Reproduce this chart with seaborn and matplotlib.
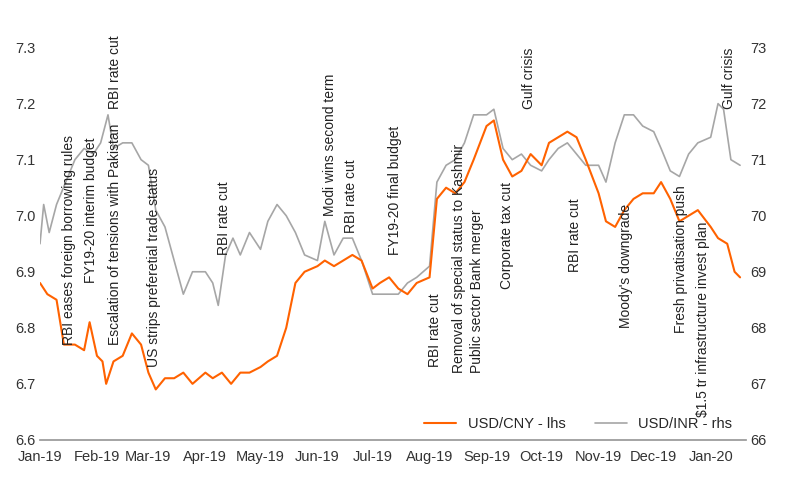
import matplotlib
matplotlib.use("Agg")
import matplotlib.pyplot as plt
import matplotlib.dates as mdates
import seaborn as sns
import pandas as pd

sns.set_theme(style="white")
plt.rcParams['font.family'] = ['Liberation Sans', 'DejaVu Sans']

cny_dates = ["2019-01-01","2019-01-05","2019-01-10","2019-01-14","2019-01-20","2019-01-25","2019-01-28","2019-02-01","2019-02-04","2019-02-06","2019-02-10","2019-02-15","2019-02-20","2019-02-25",
"2019-03-01","2019-03-05","2019-03-10","2019-03-15","2019-03-20","2019-03-25","2019-04-01","2019-04-05","2019-04-10","2019-04-15","2019-04-20","2019-04-25",
"2019-05-01","2019-05-05","2019-05-10","2019-05-15","2019-05-20","2019-05-25","2019-06-01","2019-06-05","2019-06-10","2019-06-15","2019-06-20","2019-06-25",
"2019-07-01","2019-07-05","2019-07-10","2019-07-15","2019-07-20","2019-07-25","2019-08-01","2019-08-05","2019-08-10","2019-08-15","2019-08-20","2019-08-25",
"2019-09-01","2019-09-05","2019-09-10","2019-09-15","2019-09-20","2019-09-25","2019-10-01","2019-10-05","2019-10-10","2019-10-15","2019-10-20","2019-10-25",
"2019-11-01","2019-11-05","2019-11-10","2019-11-15","2019-11-20","2019-11-25","2019-12-01","2019-12-05","2019-12-10","2019-12-15","2019-12-20","2019-12-25",
"2020-01-01","2020-01-05","2020-01-10","2020-01-14","2020-01-17"]
cny_values = [6.88,6.86,6.85,6.77,6.77,6.76,6.81,6.75,6.74,6.70,6.74,6.75,6.79,6.77,
6.72,6.69,6.71,6.71,6.72,6.70,6.72,6.71,6.72,6.70,6.72,6.72,
6.73,6.74,6.75,6.80,6.88,6.90,6.91,6.92,6.91,6.92,6.93,6.92,
6.87,6.88,6.89,6.87,6.86,6.88,6.89,7.03,7.05,7.04,7.06,7.10,
7.16,7.17,7.10,7.07,7.08,7.11,7.09,7.13,7.14,7.15,7.14,7.10,
7.04,6.99,6.98,7.01,7.03,7.04,7.04,7.06,7.03,6.99,7.00,7.01,
6.98,6.96,6.95,6.90,6.89]

inr_dates = ["2019-01-01","2019-01-03","2019-01-06","2019-01-10","2019-01-15","2019-01-20","2019-01-25","2019-01-30","2019-02-03","2019-02-07","2019-02-10","2019-02-15","2019-02-20","2019-02-25",
"2019-03-01","2019-03-05","2019-03-10","2019-03-15","2019-03-20","2019-03-25","2019-04-01","2019-04-05","2019-04-08","2019-04-12","2019-04-16","2019-04-20","2019-04-25",
"2019-05-01","2019-05-05","2019-05-10","2019-05-15","2019-05-20","2019-05-25","2019-06-01","2019-06-05","2019-06-10","2019-06-15","2019-06-20","2019-06-25",
"2019-07-01","2019-07-05","2019-07-10","2019-07-15","2019-07-20","2019-07-25","2019-08-01","2019-08-05","2019-08-10","2019-08-15","2019-08-20","2019-08-25",
"2019-09-01","2019-09-05","2019-09-10","2019-09-15","2019-09-20","2019-09-25","2019-10-01","2019-10-05","2019-10-10","2019-10-15","2019-10-20","2019-10-25",
"2019-11-01","2019-11-05","2019-11-10","2019-11-15","2019-11-20","2019-11-25","2019-12-01","2019-12-05","2019-12-10","2019-12-15","2019-12-20","2019-12-25",
"2020-01-01","2020-01-05","2020-01-08","2020-01-12","2020-01-17"]
inr_values = [69.5,70.2,69.7,70.2,70.6,71.0,71.2,71.1,71.3,71.8,71.2,71.3,71.3,71.0,
70.9,70.1,69.8,69.2,68.6,69.0,69.0,68.8,68.4,69.3,69.6,69.3,69.7,
69.4,69.9,70.2,70.0,69.7,69.3,69.2,69.9,69.3,69.6,69.6,69.2,
68.6,68.6,68.6,68.6,68.8,68.9,69.1,70.6,70.9,71.0,71.3,71.8,
71.8,71.9,71.2,71.0,71.1,70.9,70.8,71.0,71.2,71.3,71.1,70.9,
70.9,70.6,71.3,71.8,71.8,71.6,71.5,71.2,70.8,70.7,71.1,71.3,
71.4,72.0,71.9,71.0,70.9]

events = ["RBI eases foreign borrowing rules","FY19-20 interim budget","Escalation of tensions with Pakistan","RBI rate cut",
"US strips preferetial trade status","RBI rate cut","Modi wins second term","RBI rate cut","FY19-20 final budget",
"RBI rate cut","Removal of special status to Kashmir","Public sector Bank merger","Corporate tax cut","Gulf crisis",
"RBI rate cut","Moody's downgrade","Fresh privatisation push","$1.5 tr infrastructure invest plan","Gulf crisis"]
event_dates = ["2019-01-17","2019-01-29","2019-02-11","2019-02-11","2019-03-04","2019-04-11","2019-06-08","2019-06-19","2019-07-13",
"2019-08-04","2019-08-17","2019-08-27","2019-09-12","2019-09-24","2019-10-19","2019-11-16","2019-12-16","2019-12-28","2020-01-11"]
event_y = [6.77,6.88,6.77,7.19,6.73,6.93,7.00,6.97,6.93,6.73,6.72,6.72,6.87,7.19,6.90,6.80,6.79,6.64,7.19]

cny = pd.DataFrame({"date": pd.to_datetime(cny_dates), "v": cny_values})
inr = pd.DataFrame({"date": pd.to_datetime(inr_dates), "v": inr_values})

fig, ax = plt.subplots(figsize=(8, 5.01), dpi=100)
fig.subplots_adjust(left=0.05, right=0.932, top=0.905, bottom=0.122)
ax2 = ax.twinx()
sns.lineplot(data=inr, x="date", y="v", ax=ax2, color="#a6a6a6", lw=1.2, label="USD/INR - rhs", legend=False)
sns.lineplot(data=cny, x="date", y="v", ax=ax, color="#ff6200", lw=1.5, label="USD/CNY - lhs", legend=False)
ax.set_zorder(ax2.get_zorder() + 1)
ax.patch.set_visible(False)

ax.set_ylim(6.6, 7.3)
ax2.set_ylim(66, 73)
ax.set_xlim(pd.Timestamp("2019-01-01"), pd.Timestamp("2020-01-20"))
ax.set_yticks([6.6,6.7,6.8,6.9,7.0,7.1,7.2,7.3])
ax.set_yticklabels(["6.6","6.7","6.8","6.9","7.0","7.1","7.2","7.3"])
ax2.set_yticks(range(66, 74))
ax.xaxis.set_major_locator(mdates.MonthLocator())
ax.xaxis.set_major_formatter(mdates.DateFormatter("%b-%y"))
for a in (ax, ax2):
    for s in a.spines.values():
        s.set_visible(False)
    a.tick_params(labelsize=10.5, colors="#333333", length=0)
    a.set_xlabel(""); a.set_ylabel("")
ax.spines["bottom"].set_visible(True)
ax.spines["bottom"].set_color("#999999")
ax.tick_params(axis="x", length=4, color="#999999", direction="out")

for t, d, y in zip(events, event_dates, event_y):
    ax.text(pd.Timestamp(d), y, t, rotation=90, ha="center", va="bottom", fontsize=10, color="#222222")

h1, l1 = ax.get_legend_handles_labels()
h2, l2 = ax2.get_legend_handles_labels()
ax.legend(h1 + h2, l1 + l2, loc="lower right", ncol=2, frameon=False, fontsize=10.5,
          bbox_to_anchor=(1.0, -0.01), handlelength=2.2)
fig.savefig("out.png")
